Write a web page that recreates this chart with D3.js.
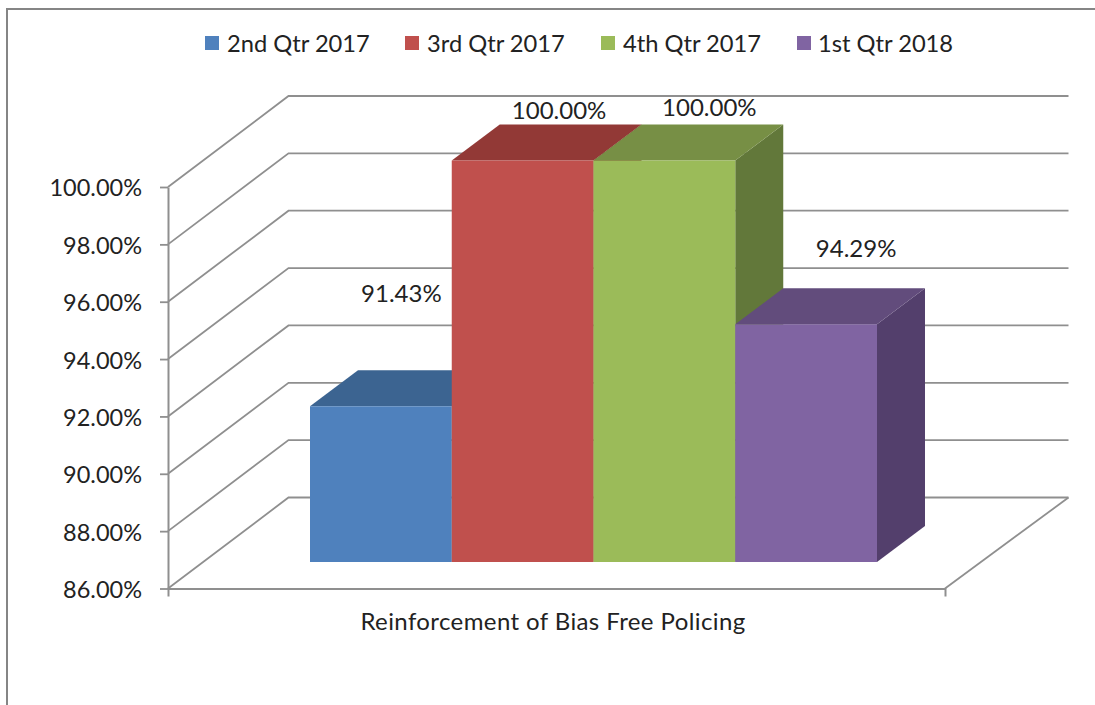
<!DOCTYPE html>
<html lang="en">
<head>
<meta charset="UTF-8">
<title>Reinforcement of Bias Free Policing</title>
<style>
    html, body { margin: 0; padding: 0; background: #fff; overflow: hidden; }
    text { font-family: Lato, "Open Sans", sans-serif; fill: #222; }
</style>
<script src="https://d3js.org/d3.v7.min.js"></script>
</head>
<body>
<script>
// chart data
const category = ["Reinforcement of Bias Free Policing"];
const seriesNames = ["2nd Qtr 2017", "3rd Qtr 2017", "4th Qtr 2017", "1st Qtr 2018"];
const seriesValues = [91.43, 100, 100, 94.29];
const yTicks = [86, 88, 90, 92, 94, 96, 98, 100];

// front, top and side colour of each bar
const frontColors = ["#4f81bd", "#c0504d", "#9bbb59", "#8064a2"];
const topColors = ["#3c6491", "#923936", "#778f45", "#624c7c"];
const sideColors = ["#335578", "#7c302e", "#62783a", "#533f6c"];

const width = 1095, height = 705;
const gridColor = "#8f8f8f";

// hand placed data labels, offset from the middle of the bar top
const labelDx = [20.5, 36.5, 45, 50];
const labelDy = [-112.5, -50.5, -53.5, -76];

const wallDx = 120.5, wallDy = -91;   // depth of the chart box
const barDx = 48, barDy = -36;        // depth of one bar
const floorLift = 26.5;               // bars stand this far up the floor

const svg = d3.select("body").append("svg")
    .attr("width", width)
    .attr("height", height);

const y = d3.scaleLinear().domain([86, 100]).range([588.5, 187]);
const x = d3.scaleBand().domain(category).range([168, 945]);
const xBar = d3.scaleBand().domain(seriesNames).range([310, 877]);

// outer frame, open on the right and bottom
svg.append("path")
    .attr("d", d3.line()([[7, height], [7, 9], [width, 9]]))
    .attr("fill", "none")
    .attr("stroke", "#858585")
    .attr("stroke-width", 2);

// back wall lines
svg.append("g").selectAll("path")
    .data(yTicks)
    .enter()
    .append("path")
    .attr("d", d => d3.line()([
        [x.range()[0], y(d)],
        [x.range()[0] + wallDx, y(d) + wallDy],
        [x.range()[1] + wallDx + 3, y(d) + wallDy]
    ]))
    .attr("fill", "none")
    .attr("stroke", gridColor)
    .attr("stroke-width", 1.8);

// right edge of the floor
svg.append("path")
    .attr("d", d3.line()([
        [x.range()[1], y(86)],
        [x.range()[1] + wallDx + 3, y(86) + wallDy]
    ]))
    .attr("fill", "none")
    .attr("stroke", gridColor)
    .attr("stroke-width", 1.8);

// y axis
const yAxis = svg.append("g")
    .attr("transform", "translate(168,0)")
    .call(d3.axisLeft(y).tickValues(yTicks).tickSize(8).tickSizeOuter(0).tickPadding(18)
        .tickFormat(d => d.toFixed(2) + "%"));
yAxis.selectAll("line").attr("stroke", gridColor).attr("stroke-width", 1.8);
yAxis.select(".domain").attr("stroke", gridColor).attr("stroke-width", 2);
yAxis.selectAll("text").style("font-size", "23.5px").attr("dy", "0.38em").style("fill", "#222");

// x axis
const xAxis = svg.append("g")
    .attr("transform", "translate(0," + y(86) + ")")
    .call(d3.axisBottom(x).tickSize(0).tickSizeOuter(8).tickPadding(24));
xAxis.select(".domain").attr("stroke", gridColor).attr("stroke-width", 2);
xAxis.selectAll("text")
    .attr("dx", -3.5)
    .style("font-size", "24px")
    .style("letter-spacing", "0.4px")
    .style("fill", "#222");

// bars, left to right so each one covers the side of the last
const bars = svg.selectAll(".bar")
    .data(seriesNames)
    .enter()
    .append("g")
    .attr("class", "bar");

const barBottom = y(86) - floorLift;
const barTop = (i) => y(seriesValues[i]) - floorLift;

bars.append("path")
    .attr("d", (d, i) => {
        const right = xBar(d) + xBar.bandwidth();
        return d3.line()([
            [right, barTop(i)],
            [right + barDx, barTop(i) + barDy],
            [right + barDx, barBottom + barDy],
            [right, barBottom]
        ]) + "Z";
    })
    .attr("fill", (d, i) => sideColors[i]);

bars.append("path")
    .attr("d", (d, i) => {
        const left = xBar(d), right = left + xBar.bandwidth();
        return d3.line()([
            [left, barTop(i)],
            [left + barDx, barTop(i) + barDy],
            [right + barDx, barTop(i) + barDy],
            [right, barTop(i)]
        ]) + "Z";
    })
    .attr("fill", (d, i) => topColors[i]);

bars.append("rect")
    .attr("x", d => xBar(d))
    .attr("y", (d, i) => barTop(i))
    .attr("width", xBar.bandwidth())
    .attr("height", (d, i) => barBottom - barTop(i))
    .attr("fill", (d, i) => frontColors[i]);

// data labels
bars.append("text")
    .attr("x", (d, i) => xBar(d) + xBar.bandwidth() / 2 + labelDx[i])
    .attr("y", (d, i) => barTop(i) + labelDy[i])
    .attr("dy", "0.36em")
    .attr("text-anchor", "middle")
    .style("font-size", "24px")
    .text((d, i) => seriesValues[i].toFixed(2) + "%");

// legend
const legendX = d3.scaleOrdinal().domain(seriesNames).range([205, 405, 601, 797]);
const legend = svg.selectAll(".legend-item")
    .data(seriesNames)
    .enter()
    .append("g")
    .attr("class", "legend-item")
    .attr("transform", d => "translate(" + legendX(d) + ",36)");

legend.append("rect")
    .attr("width", 14)
    .attr("height", 14)
    .attr("fill", (d, i) => frontColors[i]);

legend.append("text")
    .attr("x", (d, i) => i === 3 ? 21 : 22)
    .attr("y", 16)
    .style("font-size", "23.7px")
    .text(d => d);
</script>
</body>
</html>
